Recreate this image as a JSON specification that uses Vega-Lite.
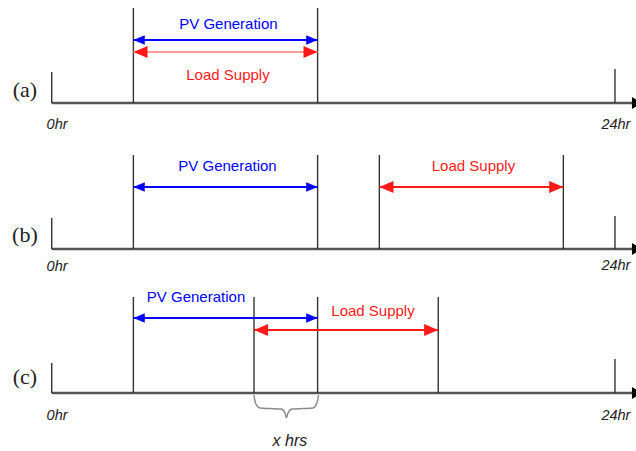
{
  "$schema": "https://vega.github.io/schema/vega-lite/v6.json",
  "autosize": "none",
  "width": 636,
  "height": 451,
  "padding": 0,
  "background": "white",
  "config": {"view": {"stroke": null}},
  "datasets": {
    "axes": [
      {"panel": "a", "start": 0, "end": 25.15, "y": 103},
      {"panel": "b", "start": 0, "end": 25.15, "y": 249},
      {"panel": "c", "start": 0, "end": 25.15, "y": 393}
    ],
    "verticals": [
      {"panel": "a", "x": 0, "top": 72, "bottom": 103},
      {"panel": "a", "x": 3.48, "top": 8, "bottom": 103},
      {"panel": "a", "x": 11.33, "top": 8, "bottom": 103},
      {"panel": "a", "x": 24, "top": 69, "bottom": 103},
      {"panel": "b", "x": 0, "top": 218, "bottom": 249},
      {"panel": "b", "x": 3.48, "top": 155, "bottom": 249},
      {"panel": "b", "x": 11.33, "top": 155, "bottom": 249},
      {"panel": "b", "x": 13.96, "top": 155, "bottom": 249},
      {"panel": "b", "x": 21.8, "top": 155, "bottom": 249},
      {"panel": "b", "x": 24, "top": 216, "bottom": 249},
      {"panel": "c", "x": 0, "top": 363, "bottom": 393},
      {"panel": "c", "x": 3.48, "top": 297, "bottom": 393},
      {"panel": "c", "x": 8.62, "top": 297, "bottom": 393},
      {"panel": "c", "x": 11.33, "top": 297, "bottom": 393},
      {"panel": "c", "x": 16.47, "top": 297, "bottom": 393},
      {"panel": "c", "x": 24, "top": 359, "bottom": 393}
    ],
    "spans": [
      {"panel": "a", "series": "PV", "start": 3.48, "end": 11.33, "y": 40},
      {"panel": "a", "series": "Load", "start": 3.48, "end": 11.33, "y": 52},
      {"panel": "b", "series": "PV", "start": 3.48, "end": 11.33, "y": 187},
      {"panel": "b", "series": "Load", "start": 13.96, "end": 21.8, "y": 187},
      {"panel": "c", "series": "PV", "start": 3.48, "end": 11.33, "y": 318},
      {"panel": "c", "series": "Load", "start": 8.62, "end": 16.47, "y": 330}
    ],
    "spanLabels": [
      {"series": "PV", "label": "PV Generation", "x": 7.53, "y": 24},
      {"series": "Load", "label": "Load Supply", "x": 7.51, "y": 75},
      {"series": "PV", "label": "PV Generation", "x": 7.49, "y": 166},
      {"series": "Load", "label": "Load Supply", "x": 17.97, "y": 166},
      {"series": "PV", "label": "PV Generation", "x": 6.15, "y": 297},
      {"series": "Load", "label": "Load Supply", "x": 13.69, "y": 311}
    ],
    "panels": [
      {"label": "(a)", "x": -1.14, "y": 90},
      {"label": "(b)", "x": -1.14, "y": 235},
      {"label": "(c)", "x": -1.14, "y": 377}
    ],
    "hours": [
      {"label": "0hr", "x": 0.23, "y": 125},
      {"label": "24hr", "x": 24.04, "y": 125},
      {"label": "0hr", "x": 0.23, "y": 267},
      {"label": "24hr", "x": 24.04, "y": 266},
      {"label": "0hr", "x": 0.23, "y": 416},
      {"label": "24hr", "x": 24.04, "y": 416}
    ],
    "xhrs": [{"label": "x hrs", "x": 10.15, "y": 441}],
    "brace": [
      {"half": "L", "x": 8.62, "y": 395},
      {"half": "L", "x": 8.68, "y": 403},
      {"half": "L", "x": 8.875, "y": 408},
      {"half": "L", "x": 9.3, "y": 408.5},
      {"half": "L", "x": 9.77, "y": 409},
      {"half": "L", "x": 9.94, "y": 413},
      {"half": "L", "x": 10.0, "y": 418},
      {"half": "R", "x": 10.0, "y": 418},
      {"half": "R", "x": 10.07, "y": 413},
      {"half": "R", "x": 10.24, "y": 409},
      {"half": "R", "x": 10.71, "y": 408.5},
      {"half": "R", "x": 11.13, "y": 408},
      {"half": "R", "x": 11.3, "y": 403},
      {"half": "R", "x": 11.37, "y": 395}
    ]
  },
  "layer": [
    {
      "data": {"name": "axes"},
      "mark": {"type": "rule", "color": "#555555", "strokeWidth": 2.5},
      "encoding": {
        "x": {"field": "start", "type": "quantitative", "scale": {"domain": [-2.203, 24.896], "nice": false, "zero": false}, "axis": null},
        "x2": {"field": "end"},
        "y": {"field": "y", "type": "quantitative", "scale": {"domain": [0, 451], "reverse": true, "nice": false, "zero": false}, "axis": null}
      }
    },
    {
      "data": {"name": "axes"},
      "mark": {"type": "point", "shape": "M-2,-1.2L0,0L-2,1.2Z", "filled": true, "color": "#000000", "size": 100, "opacity": 1},
      "encoding": {
        "x": {"field": "end", "type": "quantitative"},
        "y": {"field": "y", "type": "quantitative"}
      }
    },
    {
      "data": {"name": "verticals"},
      "mark": {"type": "rule", "color": "#333333", "strokeWidth": 1.4},
      "encoding": {
        "x": {"field": "x", "type": "quantitative"},
        "y": {"field": "top", "type": "quantitative"},
        "y2": {"field": "bottom"}
      }
    },
    {
      "data": {"name": "spans"},
      "mark": {"type": "rule", "strokeWidth": 1.8},
      "encoding": {
        "x": {"field": "start", "type": "quantitative"},
        "x2": {"field": "end"},
        "y": {"field": "y", "type": "quantitative"},
        "color": {
          "condition": {"test": "datum.panel === 'a' && datum.series === 'Load'", "value": "#ff9a9a"},
          "field": "series", "type": "nominal",
          "scale": {"domain": ["PV", "Load"], "range": ["#0000ff", "#ff1a1a"]},
          "legend": null
        }
      }
    },
    {
      "data": {"name": "spans"},
      "transform": [{"fold": ["start", "end"], "as": ["side", "pos"]}],
      "mark": {"type": "point", "filled": true, "opacity": 1},
      "encoding": {
        "x": {"field": "pos", "type": "quantitative"},
        "y": {"field": "y", "type": "quantitative"},
        "shape": {"field": "side", "type": "nominal", "scale": {"domain": ["start", "end"], "range": ["M2,-0.85L0,0L2,0.85Z", "M-2,-0.85L0,0L-2,0.85Z"]}, "legend": null},
        "size": {"field": "series", "type": "nominal", "scale": {"domain": ["PV", "Load"], "range": [130, 200]}, "legend": null},
        "color": {"field": "series", "type": "nominal", "scale": {"domain": ["PV", "Load"], "range": ["#0000ff", "#ff0000"]}, "legend": null}
      }
    },
    {
      "data": {"name": "brace"},
      "mark": {"type": "line", "interpolate": "monotone", "color": "#8a8a8a", "strokeWidth": 1.5},
      "encoding": {
        "x": {"field": "x", "type": "quantitative"},
        "y": {"field": "y", "type": "quantitative"},
        "detail": {"field": "half"},
        "order": {"field": "x", "type": "quantitative"}
      }
    },
    {
      "data": {"name": "spanLabels"},
      "mark": {"type": "text", "font": "Liberation Sans", "fontSize": 15, "baseline": "middle", "align": "center"},
      "encoding": {
        "x": {"field": "x", "type": "quantitative"},
        "y": {"field": "y", "type": "quantitative"},
        "text": {"field": "label"},
        "color": {"field": "series", "type": "nominal", "scale": {"domain": ["PV", "Load"], "range": ["#2b2bf0", "#f02020"]}, "legend": null}
      }
    },
    {
      "data": {"name": "panels"},
      "mark": {"type": "text", "font": "Liberation Serif", "fontSize": 22, "baseline": "middle", "align": "center", "color": "#222222"},
      "encoding": {
        "x": {"field": "x", "type": "quantitative"},
        "y": {"field": "y", "type": "quantitative"},
        "text": {"field": "label"}
      }
    },
    {
      "data": {"name": "hours"},
      "mark": {"type": "text", "font": "Liberation Sans", "fontStyle": "italic", "fontSize": 14.5, "baseline": "middle", "align": "center", "color": "#222222"},
      "encoding": {
        "x": {"field": "x", "type": "quantitative"},
        "y": {"field": "y", "type": "quantitative"},
        "text": {"field": "label"}
      }
    },
    {
      "data": {"name": "xhrs"},
      "mark": {"type": "text", "font": "Liberation Sans", "fontStyle": "italic", "fontSize": 16, "baseline": "middle", "align": "center", "color": "#222222"},
      "encoding": {
        "x": {"field": "x", "type": "quantitative"},
        "y": {"field": "y", "type": "quantitative"},
        "text": {"field": "label"}
      }
    }
  ]
}
